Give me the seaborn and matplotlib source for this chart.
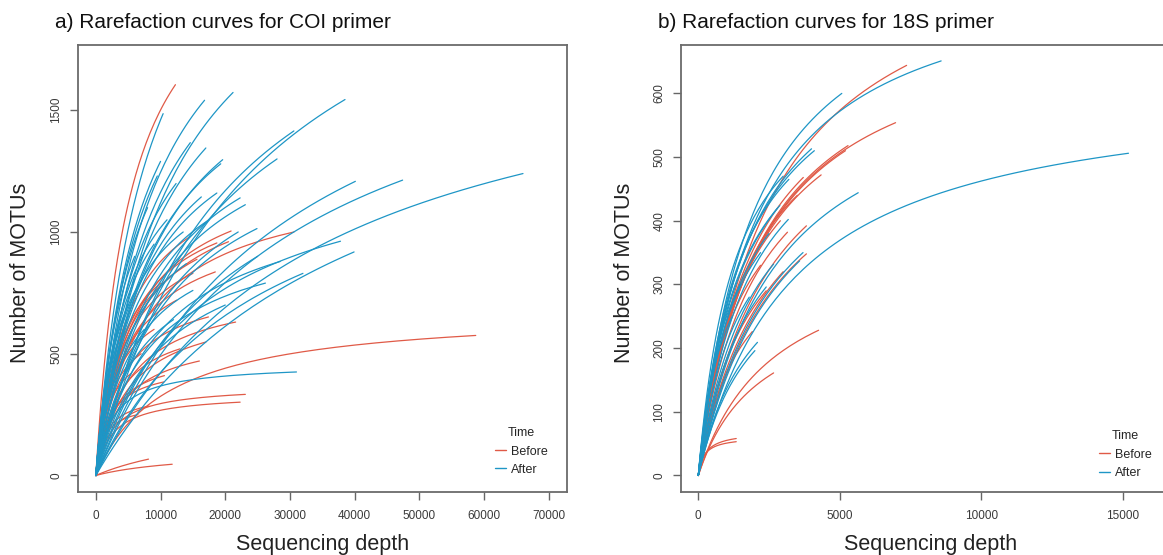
import numpy as np
import pandas as pd
import seaborn as sns
import matplotlib.pyplot as plt

# End point of every rarefaction curve (depth, MOTUs),
# plus the half-saturation depth that sets how quickly each curve levels off.

# a) COI primer
coi_before_depth = [12300, 20900, 30600, 58700, 8140, 11800, 23100, 22300, 21600, 17400,
                    17000, 10600, 10500, 18460, 15630, 18700, 15000, 8200, 6500, 13000,
                    9000, 7000, 12500, 14500, 10000, 5500, 16000, 20500]
coi_before_motus = [1605, 1004, 1000, 575, 67, 46, 333, 301, 630, 651,
                    548, 410, 384, 836, 888, 955, 830, 285, 250, 520,
                    600, 500, 720, 980, 790, 420, 470, 960]
coi_before_half = [5300, 6000, 7000, 11000, 20000, 15000, 2500, 2500, 5000, 4000,
                   5000, 2500, 2000, 5000, 5000, 5000, 4500, 1500, 1200, 3500,
                   3000, 2500, 4000, 5000, 4000, 2000, 4000, 6000]

coi_after_depth = [10400, 16800, 21200, 38500, 30600, 17000, 14600, 19600, 19300, 12400,
                   40100, 47400, 66000, 18700, 22300, 23100, 24900, 37800, 39900, 28500,
                   26200, 31000, 16300, 9500, 8000, 11000, 13500, 6000, 9000, 7000,
                   15000, 20000, 12000, 25000, 17500, 5000, 10000, 14000, 32000, 22000,
                   7500, 3500, 28000]
coi_after_motus = [1486, 1541, 1573, 1544, 1415, 1345, 1367, 1297, 1280, 1199,
                   1208, 1213, 1240, 1160, 1140, 1112, 1014, 962, 918, 879,
                   790, 425, 1144, 1230, 1100, 1050, 1000, 900, 950, 800,
                   760, 700, 640, 900, 1050, 700, 1290, 870, 830, 1000,
                   600, 550, 1300]
coi_after_half = [8000, 9000, 12000, 25000, 20000, 10000, 9000, 10000, 9000, 7000,
                  30000, 30000, 35000, 8000, 10000, 10000, 12000, 15000, 40000, 10000,
                  8000, 2500, 8000, 7000, 6000, 5000, 5000, 4500, 5000, 4000,
                  6000, 10000, 6000, 20000, 7000, 3500, 7000, 6000, 25000, 12000,
                  4000, 2500, 18000]

# b) 18S primer
s18_before_depth = [7360, 6970, 5290, 5200, 4340, 3710, 3500, 2900, 3150, 3820,
                    3820, 3000, 1910, 2400, 4250, 2660, 1340, 1340, 2200]
s18_before_motus = [644, 554, 518, 510, 472, 468, 440, 400, 382, 392,
                    348, 320, 226, 290, 228, 161, 58, 53, 330]
s18_before_half = [2600, 2200, 2200, 2200, 2000, 2000, 1800, 1700, 2000, 2600,
                   2800, 2500, 1500, 1800, 2700, 2200, 250, 200, 1400]

s18_after_depth = [5070, 8580, 15200, 5650, 4000, 3180, 2880, 2090, 2000, 2660,
                   3580, 2400, 4100, 3000, 2800, 3200, 1500, 2500, 1800, 1200,
                   3700, 2200]
s18_after_motus = [600, 651, 506, 444, 513, 402, 424, 209, 196, 332,
                   337, 296, 510, 470, 420, 465, 300, 380, 280, 250,
                   350, 350]
s18_after_half = [2000, 2050, 3370, 2700, 1800, 1900, 1600, 2000, 2000, 2000,
                  3000, 1900, 1700, 1300, 1500, 1500, 1000, 1500, 1400, 900,
                  2800, 1300]

red = '#E05A47'
blue = '#1E96C6'


def curve_frame(depth, motus, half, time):
    frames = []
    for i, (d, m, h) in enumerate(zip(depth, motus, half)):
        a = m * (h + d) / d
        x = np.concatenate([[0], np.geomspace(d / 2000, d, 200)])
        frames.append(pd.DataFrame({'depth': x, 'motus': a * x / (h + x),
                                    'sample': f'{time}{i}', 'Time': time}))
    return frames


coi = pd.concat(curve_frame(coi_before_depth, coi_before_motus, coi_before_half, 'Before')
                + curve_frame(coi_after_depth, coi_after_motus, coi_after_half, 'After'))
s18 = pd.concat(curve_frame(s18_before_depth, s18_before_motus, s18_before_half, 'Before')
                + curve_frame(s18_after_depth, s18_after_motus, s18_after_half, 'After'))

sns.set_theme(style='white')
plt.rcParams['font.family'] = ['Liberation Sans', 'DejaVu Sans']

fig = plt.figure(figsize=(11.63, 5.55), dpi=100)
ax1 = fig.add_axes([77.7 / 1163, 63 / 555, 489.3 / 1163, 447 / 555])
ax2 = fig.add_axes([680.7 / 1163, 63 / 555, 499.3 / 1163, 447 / 555])

panels = [
    (ax1, coi, (-2800, 72800), (-68, 1768), np.arange(0, 70001, 10000), [0, 500, 1000, 1500],
     'a) Rarefaction curves for COI primer', -0.095),
    (ax2, s18, (-622, 17020), (-26, 676), [0, 5000, 10000, 15000], np.arange(0, 601, 100),
     'b) Rarefaction curves for 18S primer', -0.092),
]

for ax, df, xlim, ylim, xt, yt, title, ylab_x in panels:
    sns.lineplot(data=df, x='depth', y='motus', hue='Time', units='sample', estimator=None,
                 sort=False, hue_order=['Before', 'After'], palette={'Before': red, 'After': blue},
                 lw=0.9, ax=ax)
    ax.set_xlim(xlim)
    ax.set_ylim(ylim)
    ax.set_xticks(xt)
    ax.set_yticks(yt)
    ax.tick_params(bottom=True, left=True, direction='out', length=6, width=1,
                   color='#666666', labelsize=8.5, labelcolor='#3a3a3a')
    ax.tick_params(axis='x', pad=7)
    ax.tick_params(axis='y', pad=5)
    plt.setp(ax.get_yticklabels(), rotation=90, va='center')
    for s in ax.spines.values():
        s.set_color('#6b6b6b')
        s.set_linewidth(1.3)
    ax.set_xlabel('Sequencing depth', fontsize=15.5, color='#222222')
    ax.set_ylabel('Number of MOTUs', fontsize=15.5, color='#222222')
    ax.xaxis.set_label_coords(0.5, -0.093)
    ax.yaxis.set_label_coords(ylab_x, 0.49)
    pos = ax.get_position()
    fig.text(pos.x0 - 23 / 1163, 0.960, title, fontsize=15, ha='left', va='center', color='#111111')

leg_kw = dict(title='Time', loc='upper left', frameon=False, fontsize=9, title_fontsize=9,
              handlelength=0.9, handletextpad=0.4, labelspacing=0.5)
leg1 = ax1.legend(bbox_to_anchor=(0.83, 0.17), **leg_kw)
leg2 = ax2.legend(bbox_to_anchor=(0.815, 0.163), **leg_kw)
for leg in (leg1, leg2):
    for line in leg.get_lines():
        line.set_linewidth(1.0)

plt.savefig('out.png', dpi=100)
